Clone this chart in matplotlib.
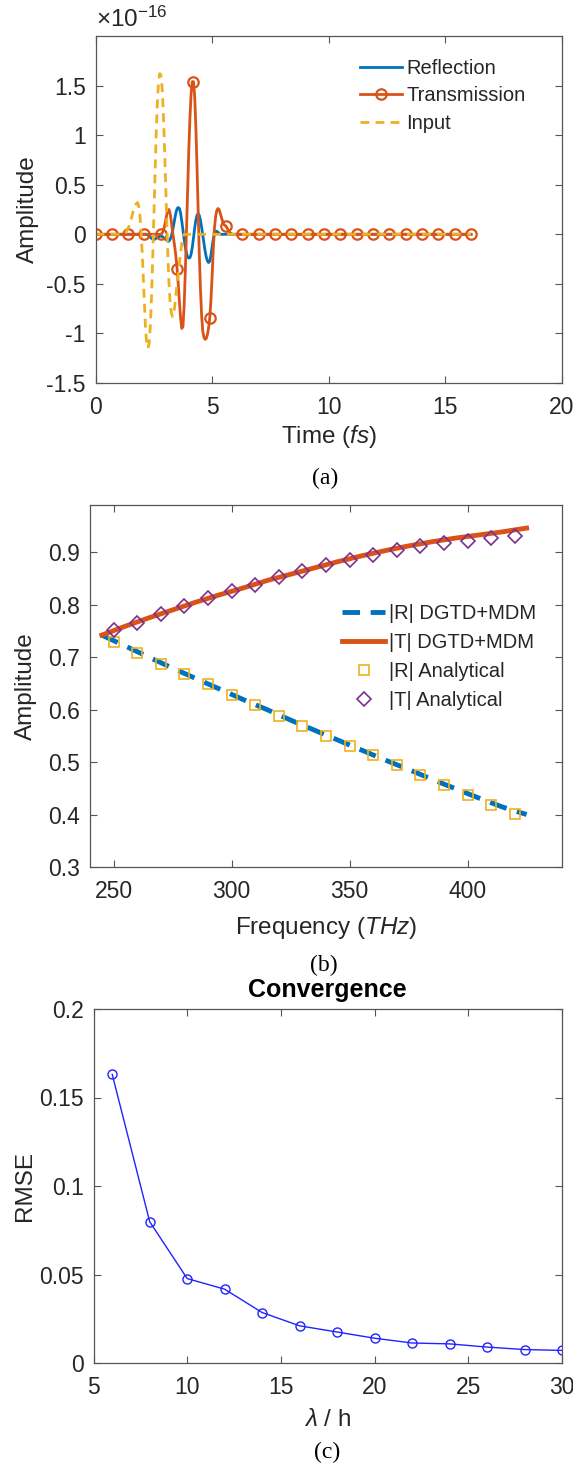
#!/usr/bin/env python3
"""Three stacked panels: pulse waveforms, |R|/|T| spectra, convergence."""

import matplotlib
matplotlib.use("Agg")
import matplotlib.pyplot as plt
import numpy as np

plt.rcParams["font.family"] = ["Liberation Sans", "DejaVu Sans"]
plt.rcParams["mathtext.fontset"] = "custom"
plt.rcParams["mathtext.rm"] = "Liberation Sans"
plt.rcParams["mathtext.it"] = "Liberation Sans:italic"

# ---------------------------------------------------------------------------
# Data
# ---------------------------------------------------------------------------
# (a) time signals, amplitude in units of 1e-16, sampled every 0.05 fs
t_step = 0.05
t_end = 16.1

trans_t0 = 2.80
trans_vals = [
    0.00, 0.01, 0.03, 0.07, 0.13, 0.19, 0.24, 0.25, 0.21, 0.13,
    0.03, -0.05, -0.13, -0.23, -0.35, -0.51, -0.69, -0.85, -0.95, -0.93,
    -0.72, -0.38, 0.03, 0.45, 0.85, 1.18, 1.42, 1.54, 1.54, 1.40,
    1.10, 0.70, 0.25, -0.20, -0.55, -0.82, -0.98, -1.04, -1.06, -1.05,
    -1.01, -0.94, -0.84, -0.66, -0.42, -0.15, 0.06, 0.18, 0.24, 0.26,
    0.25, 0.21, 0.17, 0.13, 0.10, 0.09, 0.08, 0.06, 0.04, 0.02,
    0.01, 0.00,
]

refl_t0 = 2.20
refl_vals = [
    0.00, -0.01, -0.02, -0.03, -0.04, -0.05, -0.05, -0.05, -0.04, -0.03,
    -0.03, -0.02, -0.02, -0.02, -0.03, -0.04, -0.05, -0.06, -0.07, -0.07,
    -0.05, -0.02, 0.03, 0.09, 0.16, 0.22, 0.26, 0.27, 0.26, 0.21,
    0.13, 0.04, -0.05, -0.13, -0.19, -0.23, -0.24, -0.235, -0.20, -0.13,
    -0.04, 0.06, 0.14, 0.19, 0.21, 0.19, 0.14, 0.07, -0.01, -0.09,
    -0.17, -0.23, -0.27, -0.285, -0.27, -0.21, -0.13, -0.05, 0.01, 0.03,
    0.03, 0.02, 0.01, 0.00,
]

inp_t0 = 1.20
inp_vals = [
    0.00, 0.01, 0.02, 0.04, 0.06, 0.09, 0.13, 0.17, 0.22, 0.26,
    0.29, 0.31, 0.32, 0.29, 0.20, 0.04, -0.18, -0.45, -0.74, -0.97,
    -1.11, -1.15, -1.10, -0.93, -0.64, -0.26, 0.17, 0.60, 1.00, 1.32,
    1.53, 1.62, 1.61, 1.50, 1.27, 0.95, 0.56, 0.16, -0.20, -0.49,
    -0.69, -0.79, -0.83, -0.81, -0.72, -0.60, -0.49, -0.40, -0.29, -0.18,
    -0.09, -0.03, 0.00,
]

# (b) spectra
freq_line = [245, 255, 265, 275, 285, 295, 305, 315, 325, 335,
             345, 355, 365, 375, 385, 395, 405, 415, 425]
r_dgtd = [0.742, 0.721, 0.700, 0.679, 0.659, 0.639, 0.619, 0.600, 0.580, 0.561,
          0.542, 0.523, 0.504, 0.486, 0.467, 0.449, 0.431, 0.414, 0.400]
t_dgtd = [0.742, 0.759, 0.775, 0.790, 0.805, 0.819, 0.832, 0.846, 0.858, 0.870,
          0.882, 0.893, 0.903, 0.912, 0.920, 0.927, 0.933, 0.939, 0.946]

freq_an = [250, 260, 270, 280, 290, 300, 310, 320, 330,
           340, 350, 360, 370, 380, 390, 400, 410, 420]
r_an = [0.729, 0.708, 0.687, 0.668, 0.648, 0.627, 0.608, 0.588, 0.568,
        0.549, 0.531, 0.513, 0.494, 0.475, 0.456, 0.438, 0.419, 0.401]
t_an = [0.752, 0.766, 0.783, 0.797, 0.813, 0.826, 0.837, 0.852, 0.864,
        0.875, 0.886, 0.895, 0.904, 0.911, 0.917, 0.922, 0.927, 0.931]

# (c) convergence
lam_h = [6, 8, 10, 12, 14, 16, 18, 20, 22, 24, 26, 28, 30]
rmse = [0.163, 0.0798, 0.0477, 0.0417, 0.0285, 0.0210, 0.0175,
        0.0140, 0.0113, 0.0108, 0.0090, 0.0076, 0.0071]

# MATLAB default colours
C_BLUE = "#0072BD"
C_ORANGE = "#D95319"
C_YELLOW = "#EDB120"
C_PURPLE = "#7E2F8E"
TXT = "#262626"
AX = "#555555"

TICK_FS = 16.5
LABEL_FS = 17.5
LEG_FS = 14.5
CAP_FS = 17

W, H = 573, 1465


def on_grid(t, t0, vals):
    """Place a window of samples on the full time grid (flat zero elsewhere)."""
    y = np.zeros_like(t)
    i0 = int(round(t0 / t_step))
    y[i0:i0 + len(vals)] = vals
    return y


def style_axes(ax):
    for sp in ax.spines.values():
        sp.set_color(AX)
        sp.set_linewidth(0.9)
    ax.tick_params(direction="in", top=True, right=True, length=5,
                   width=0.8, color=AX, labelcolor=TXT, labelsize=TICK_FS)
    ax.tick_params(axis="x", pad=9.5)
    ax.tick_params(axis="y", pad=7)


def place_labels(ax, box, xlab_y, ylab_x):
    """Put axis labels at given figure-pixel centres."""
    left, top, right, bottom = box
    ax.xaxis.label.set_va("center")
    ax.yaxis.label.set_va("center")
    ax.xaxis.set_label_coords(0.5, (bottom - xlab_y) / (bottom - top))
    ax.yaxis.set_label_coords((ylab_x - left) / (right - left), 0.5)


def add_axes(box):
    left, top, right, bottom = box
    return fig.add_axes([left / W, 1 - bottom / H, (right - left) / W,
                         (bottom - top) / H])


def add_legend(ax, x_px, top_px, handlelength, spacing):
    leg = ax.legend(loc="upper left", bbox_to_anchor=(x_px / W, 1 - top_px / H),
                    bbox_transform=fig.transFigure, frameon=False,
                    fontsize=LEG_FS, handlelength=handlelength,
                    handletextpad=0.2, labelspacing=spacing, borderpad=0,
                    borderaxespad=0)
    for txt in leg.get_texts():
        txt.set_color(TXT)
    return leg


fig = plt.figure(figsize=(W / 100, H / 100), dpi=100)

# ---------------------------------------------------------------------------
# (a) waveforms
# ---------------------------------------------------------------------------
box_a = (95.5, 36, 562, 383)
ax = add_axes(box_a)
t = np.round(np.arange(0, t_end + t_step / 2, t_step), 2)
refl = on_grid(t, refl_t0, refl_vals)
trans = on_grid(t, trans_t0, trans_vals)
inp = on_grid(t, inp_t0, inp_vals)

ax.plot(t, refl, color=C_BLUE, lw=2.0, label="Reflection")
ax.plot(t, trans, color=C_ORANGE, lw=2.0, marker="o", ms=7.5, mfc="none",
        mew=1.6, markevery=14, label="Transmission")
ax.plot(t, inp, color=C_YELLOW, lw=2.0, ls=(0, (3.2, 2.2)), label="Input")
ax.set_xlim(0, 20)
ax.set_ylim(-1.5, 2)
ax.set_xticks([0, 5, 10, 15, 20])
ax.set_yticks([-1.5, -1, -0.5, 0, 0.5, 1, 1.5])
ax.set_yticklabels(["-1.5", "-1", "-0.5", "0", "0.5", "1", "1.5"])
style_axes(ax)
ax.set_xlabel("Time ($\\it{fs}$)", fontsize=LABEL_FS, color=TXT)
ax.set_ylabel("Amplitude", fontsize=LABEL_FS, color=TXT)
place_labels(ax, box_a, 437, 28)
ax.text(0, 1.012, "$\\times10^{-16}$", transform=ax.transAxes,
        fontsize=LABEL_FS, color=TXT, ha="left", va="bottom")
add_legend(ax, 360, 59, 2.1, 0.42)
fig.text(325 / W, 1 - 478 / H, "(a)", family="Liberation Serif",
         fontsize=CAP_FS, ha="center", va="center")

# ---------------------------------------------------------------------------
# (b) spectra
# ---------------------------------------------------------------------------
box_b = (90, 505, 562, 867)
ax = add_axes(box_b)
ax.plot(freq_line, r_dgtd, color=C_BLUE, lw=3.5, ls=(0, (3.6, 2.2)),
        label="|R| DGTD+MDM")
ax.plot(freq_line, t_dgtd, color=C_ORANGE, lw=3.5, label="|T| DGTD+MDM")
ax.plot(freq_an, r_an, ls="none", marker="s", ms=7.5, mfc="none",
        mec=C_YELLOW, mew=1.2, label="|R| Analytical")
ax.plot(freq_an, t_an, ls="none", marker="D", ms=7.5, mfc="none",
        mec=C_PURPLE, mew=1.2, label="|T| Analytical")
ax.set_xlim(240, 440)
ax.set_ylim(0.3, 0.99)
ax.set_xticks([250, 300, 350, 400])
ax.set_yticks([0.3, 0.4, 0.5, 0.6, 0.7, 0.8, 0.9])
style_axes(ax)
ax.set_xlabel("Frequency ($\\it{THz}$)", fontsize=LABEL_FS, color=TXT)
ax.set_ylabel("Amplitude", fontsize=LABEL_FS, color=TXT)
place_labels(ax, box_b, 928, 26)
add_legend(ax, 342, 604, 2.15, 0.5)
fig.text(324 / W, 1 - 965 / H, "(b)", family="Liberation Serif",
         fontsize=CAP_FS, ha="center", va="center")

# ---------------------------------------------------------------------------
# (c) convergence
# ---------------------------------------------------------------------------
box_c = (93.5, 1009, 562, 1363)
ax = add_axes(box_c)
ax.plot(lam_h, rmse, color="#2222ff", lw=1.0, marker="o", ms=6.5,
        mfc="none", mew=1.0)
ax.set_xlim(5, 30)
ax.set_ylim(0, 0.2)
ax.set_xticks([5, 10, 15, 20, 25, 30])
ax.set_yticks([0, 0.05, 0.1, 0.15, 0.2])
ax.set_yticklabels(["0", "0.05", "0.1", "0.15", "0.2"])
style_axes(ax)
ax.set_xlabel("$\\lambda$ / h", fontsize=LABEL_FS, color=TXT)
ax.set_ylabel("RMSE", fontsize=LABEL_FS, color=TXT)
place_labels(ax, box_c, 1420, 25)
fig.text((box_c[0] + box_c[2]) / 2 / W, 1 - 990 / H, "Convergence",
         fontsize=18, fontweight="bold", ha="center", va="center")
fig.text(327 / W, 1 - 1452 / H, "(c)", family="Liberation Serif",
         fontsize=CAP_FS, ha="center", va="center")

fig.savefig("out.png", dpi=100, facecolor="white")
